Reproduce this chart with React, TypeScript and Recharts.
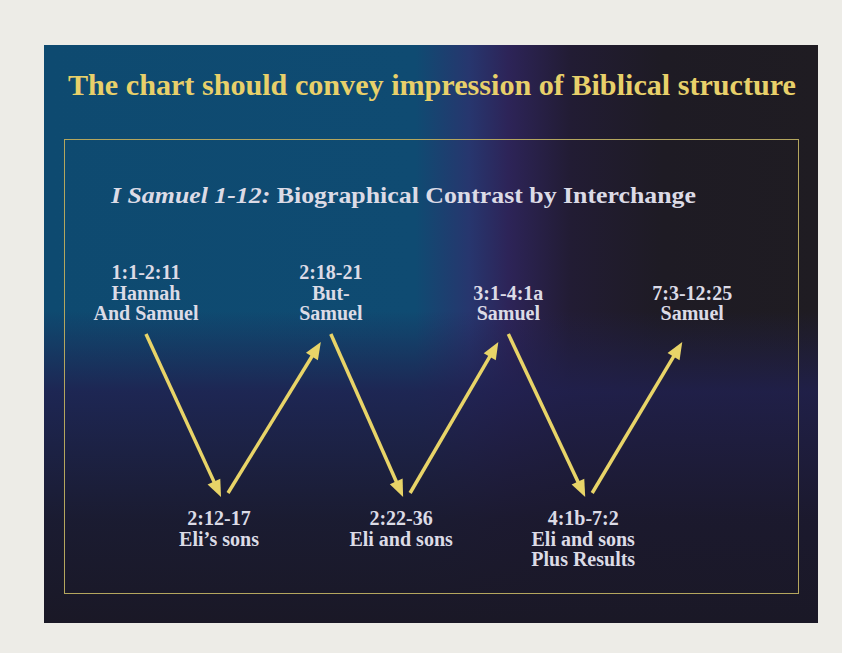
import { ComposedChart, ReferenceLine, Scatter, XAxis, YAxis } from 'recharts'

// stages of 1 Samuel 1-12, alternating between Samuel (top) and Eli's house (bottom)
const stageRefs = ['1:1-2:11', '2:12-17', '2:18-21', '2:22-36', '3:1-4:1a', '4:1b-7:2', '7:3-12:25']
const stageNames = [
  ['Hannah', 'And Samuel'],
  ['Eli\u2019s sons'],
  ['But-', 'Samuel'],
  ['Eli and sons'],
  ['Samuel'],
  ['Eli and sons', 'Plus Results'],
  ['Samuel'],
]
const stageLevels = [1, 0, 1, 0, 1, 0, 1]
const stagePositions = [0, 0.82, 2.02, 2.81, 3.96, 4.8, 5.97]

const data = stageRefs.map((ref, i) => ({
  ref,
  names: stageNames[i],
  pos: stagePositions[i],
  level: stageLevels[i],
}))

const ARROW = '#e8d468'
const LABEL = '#dcdbe6'
const FONT = '"Liberation Serif", "Times New Roman", serif'

const ArrowShape = (props: any) => {
  const { x1, y1, x2, y2 } = props
  if ([x1, y1, x2, y2].some((v) => typeof v !== 'number')) return <g />
  const down = y2 > y1
  const sx = x1 + (down ? 2 : 9)
  const sy = y1 + (down ? -4 : -2)
  const ex = x2 + (down ? 2 : -8)
  const ey = y2 + (down ? 2 : 4)
  const ang = Math.atan2(ey - sy, ex - sx)
  const cos = Math.cos(ang)
  const sin = Math.sin(ang)
  const len = 17
  const half = 7
  const bx = ex - len * cos
  const by = ey - len * sin
  const pts = `${ex},${ey} ${bx - half * sin},${by + half * cos} ${bx + half * sin},${by - half * cos}`
  return (
    <g>
      <line x1={sx} y1={sy} x2={bx + 2 * cos} y2={by + 2 * sin} stroke={ARROW} strokeWidth={3.5} />
      <polygon points={pts} fill={ARROW} />
    </g>
  )
}

const StageLabel = (props: any) => {
  const { cx, cy, payload } = props
  const lines: string[] = [payload.ref, ...payload.names]
  const lh = 20.5
  const top = payload.level === 1
  const first = top ? cy - 18 - lh * (lines.length - 1) : cy + 30
  const x = top ? cx + 2 : cx
  return (
    <text
      x={x}
      y={first}
      textAnchor="middle"
      fill={LABEL}
      fontFamily={FONT}
      fontWeight="bold"
      fontSize={20}
    >
      {lines.map((l, i) => (
        <tspan key={i} x={x} y={first + i * lh}>
          {l}
        </tspan>
      ))}
    </text>
  )
}

export default function App() {
  return (
    <div
      style={{
        position: 'absolute',
        left: 0,
        top: 0,
        width: 842,
        height: 653,
        background: '#edece7',
        overflow: 'hidden',
      }}
    >
      <div
        style={{
          position: 'absolute',
          left: 44,
          top: 45,
          width: 774,
          height: 578,
          background:
            'linear-gradient(to bottom, rgba(0,0,0,0) 0%, rgba(0,0,0,0) 46%, rgba(32,32,78,0.85) 60%, rgba(27,25,46,0.95) 82%, rgba(26,24,38,1) 100%),' +
            'linear-gradient(to right, #0e4a70 0%, #0f4b72 48%, #27366e 55%, #2d2458 60%, #221c34 68%, #1e1b24 80%, #1f1c22 100%)',
        }}
      />
      <div
        style={{
          position: 'absolute',
          left: 64,
          top: 139,
          width: 735,
          height: 455,
          border: '1px solid #b4a65e',
          boxSizing: 'border-box',
        }}
      />
      <svg width={842} height={653} style={{ position: 'absolute', left: 0, top: 0 }}>
        <text
          x={432}
          y={95}
          textAnchor="middle"
          fill="#e8d06a"
          fontFamily={FONT}
          fontWeight="bold"
          fontSize={30}
          textLength={728}
          lengthAdjust="spacingAndGlyphs"
        >
          The chart should convey impression of Biblical structure
        </text>
        <text
          x={111}
          y={203}
          fill={LABEL}
          fontFamily={FONT}
          fontWeight="bold"
          fontSize={23}
          textLength={585}
          lengthAdjust="spacingAndGlyphs"
        >
          <tspan fontStyle="italic">I Samuel 1-12:</tspan> Biographical Contrast by Interchange
        </text>
      </svg>
      <div style={{ position: 'absolute', left: 0, top: 0 }}>
        <ComposedChart
          width={842}
          height={653}
          data={data}
          margin={{ top: 338, right: 149, bottom: 158, left: 144 }}
        >
          <XAxis type="number" dataKey="pos" domain={[0, 6]} hide />
          <YAxis type="number" dataKey="level" domain={[0, 1]} hide />
          {data.slice(0, -1).map((d, i) => (
            <ReferenceLine
              key={d.ref}
              segment={[
                { x: d.pos, y: d.level },
                { x: data[i + 1].pos, y: data[i + 1].level },
              ]}
              ifOverflow="visible"
              shape={ArrowShape}
            />
          ))}
          <Scatter dataKey="level" isAnimationActive={false} shape={StageLabel} />
        </ComposedChart>
      </div>
    </div>
  )
}
